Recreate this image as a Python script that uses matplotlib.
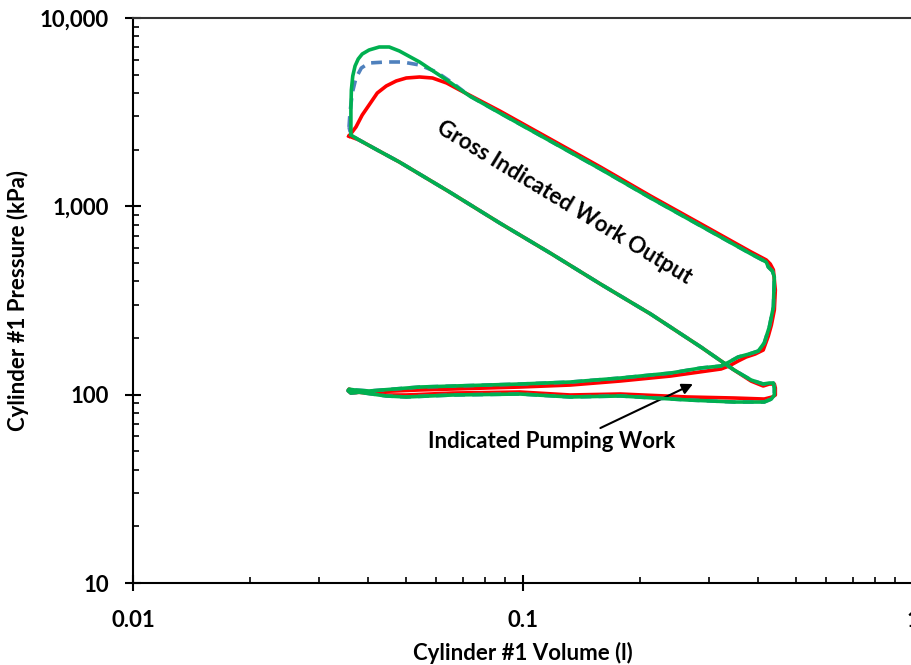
import matplotlib
matplotlib.use('Agg')
import matplotlib.pyplot as plt
from matplotlib.ticker import LogLocator, FuncFormatter, NullFormatter

plt.rcParams['font.family'] = ['Lato', 'DejaVu Sans']
plt.rcParams['font.weight'] = 'bold'

# Green trace: volume (l) and pressure (kPa), one cycle starting at TDC
green_V = [0.0362, 0.0362, 0.0363, 0.0366, 0.0371, 0.0378, 0.0387, 0.0403, 0.0428, 0.0454,
           0.0482, 0.0543, 0.0637, 0.0730,
           0.0872, 0.1174, 0.1579, 0.2125, 0.2859, 0.3847, 0.4205,
           0.4256, 0.4359, 0.4410, 0.4385, 0.4281, 0.4155, 0.4010, 0.3801, 0.3561,
           0.3376, 0.3219, 0.2859,
           0.2392, 0.1778, 0.1322, 0.0982, 0.0808, 0.0543, 0.0403, 0.0369, 0.0358, 0.0356,
           0.0362, 0.0380, 0.0446, 0.0502, 0.0660, 0.0982, 0.1322, 0.1778, 0.2646, 0.3477,
           0.4155, 0.4333, 0.4410, 0.4410, 0.4385, 0.4281, 0.4130, 0.3847, 0.3477, 0.2859,
           0.2125, 0.1579, 0.1174, 0.0872, 0.0648, 0.0482, 0.0423, 0.0380, 0.0362]
green_p = [2451, 3247, 4147, 4920, 5561, 6058, 6439, 6762, 7015, 7015,
           6680, 5840, 4687, 3852,
           3131, 2223, 1579, 1107, 786, 558, 506,
           476, 453.6, 421.4, 292, 228.8, 188.1, 170.5, 164.4, 158.5,
           149.1, 142.0, 138.6,
           130.3, 122.6, 116.7, 113.9, 112.5, 109.8, 104.6, 106, 107, 105,
           102, 103, 98.4, 97.2, 99.6, 100.8, 97.2, 98.4, 93.7, 91.4,
           91.4, 94.8, 99.6, 108.5, 115.3, 115.3, 113.9, 119.6, 135.2, 179,
           268, 387, 565, 815, 1192, 1719, 1991, 2250, 2391]

# Red trace
red_V = [0.0358, 0.0373, 0.0387, 0.0403, 0.0423, 0.0446, 0.0473, 0.0502, 0.0543, 0.0586,
         0.0637, 0.0688,
         0.0872, 0.1174, 0.1579, 0.2125, 0.2859, 0.3847, 0.4205,
         0.4305, 0.4385, 0.4436, 0.4410, 0.4333, 0.4256, 0.4130, 0.3939, 0.3734, 0.3561,
         0.3376, 0.3219,
         0.2392, 0.1778, 0.1322, 0.0982, 0.0808, 0.0543, 0.0403, 0.0369, 0.0358, 0.0356,
         0.0362, 0.0380, 0.0446, 0.0502, 0.0660, 0.0982, 0.1322, 0.1778, 0.2646, 0.3477,
         0.4155, 0.4359, 0.4436, 0.4436, 0.4410, 0.4281, 0.4130, 0.3847, 0.3477, 0.2859,
         0.2125, 0.1579, 0.1174, 0.0872, 0.0648, 0.0482, 0.0423, 0.0380, 0.0358]
red_p = [2360, 2638, 3054, 3451, 3997, 4355, 4630, 4802, 4861, 4802,
         4518, 4147,
         3208, 2278, 1618, 1134, 806, 572, 519,
         494, 460, 359, 281.5, 234, 204.8, 172.6, 164.4, 158.5, 150.9,
         142, 136.9,
         125.6, 118.2, 112.5, 109.8, 108.5, 105.9, 103.3, 104.6, 107, 105,
         102, 103, 99.6, 99.6, 102, 103.3, 99.6, 100.8, 97.2, 96,
         94.8, 97.2, 99.6, 108.5, 113.9, 113.9, 111.2, 118, 135.2, 179,
         268, 387, 565, 815, 1192, 1719, 1991, 2250, 2360]

# Blue dashed trace: its own combustion hump, then it follows the green trace
blue_comb_V = [0.0358, 0.0360, 0.0365, 0.0373, 0.0385, 0.0403, 0.0446, 0.0491, 0.0543,
               0.0600, 0.0660]
blue_comb_p = [2638, 3131, 3997, 4802, 5426, 5769, 5840, 5840, 5629,
               5167, 4518]
BLUE_JOIN = 13  # index in the green trace where the blue trace rejoins it

x_ticks = [0.01, 0.1, 1]
y_ticks = [10, 100, 1000, 10000]

fig = plt.figure(figsize=(9.12, 6.65), dpi=100)
ax = fig.add_axes([133 / 912, 1 - 583 / 665, 780 / 912, 565 / 665])

blue_V = blue_comb_V + green_V[BLUE_JOIN:] + blue_comb_V[:1]
blue_p = blue_comb_p + green_p[BLUE_JOIN:] + blue_comb_p[:1]

ax.plot(red_V, red_p, color='#FF0000', lw=2.6, solid_joinstyle='round', zorder=2)
ax.plot(blue_V, blue_p, color='#4F81BD', lw=2.6, ls=(0, (3, 2)), zorder=3)
ax.plot(green_V, green_p, color='#00B050', lw=2.6, solid_joinstyle='round', zorder=4)

ax.set_xscale('log')
ax.set_yscale('log')

ax.xaxis.set_minor_locator(LogLocator(base=10, subs=range(2, 10)))
ax.yaxis.set_minor_locator(LogLocator(base=10, subs=range(2, 10)))
ax.set_xticks(x_ticks)
ax.set_yticks(y_ticks)
ax.xaxis.set_major_formatter(FuncFormatter(lambda v, _: f'{v:g}'))
ax.yaxis.set_major_formatter(FuncFormatter(lambda v, _: f'{v:,.0f}'))
ax.xaxis.set_minor_formatter(NullFormatter())
ax.yaxis.set_minor_formatter(NullFormatter())
ax.set_xlim(0.01, 1)
ax.set_ylim(10, 10000)

for s in ax.spines.values():
    s.set_linewidth(1.5)
ax.spines['top'].set_color('#333333')
ax.tick_params(which='major', direction='inout', length=11, width=1.5,
               labelsize=16, pad=12)
ax.tick_params(which='minor', direction='in', length=4, width=1.2)
ax.tick_params(axis='x', which='major', pad=14)

ax.set_xlabel('Cylinder #1 Volume (l)', fontsize=16, fontweight='bold')
ax.set_ylabel('Cylinder #1 Pressure (kPa)', fontsize=16, fontweight='bold')
ax.xaxis.set_label_coords(0.5, -0.105)
ax.yaxis.set_label_coords(-0.133, 0.5)

ax.text(0.1276, 1054, 'Gross Indicated Work Output', rotation=-31.3,
        rotation_mode='anchor', ha='center', va='center', fontsize=16,
        fontweight='bold')
ax.text(0.1181, 56.7, 'Indicated Pumping Work', ha='center', va='center',
        fontsize=16, fontweight='bold')
ax.annotate('', xy=(0.2727, 113.9), xytext=(0.1579, 66.5),
            arrowprops=dict(arrowstyle='-|>', color='black', lw=1.5,
                            mutation_scale=16, shrinkA=0, shrinkB=0))

fig.savefig('out.png', dpi=100)
